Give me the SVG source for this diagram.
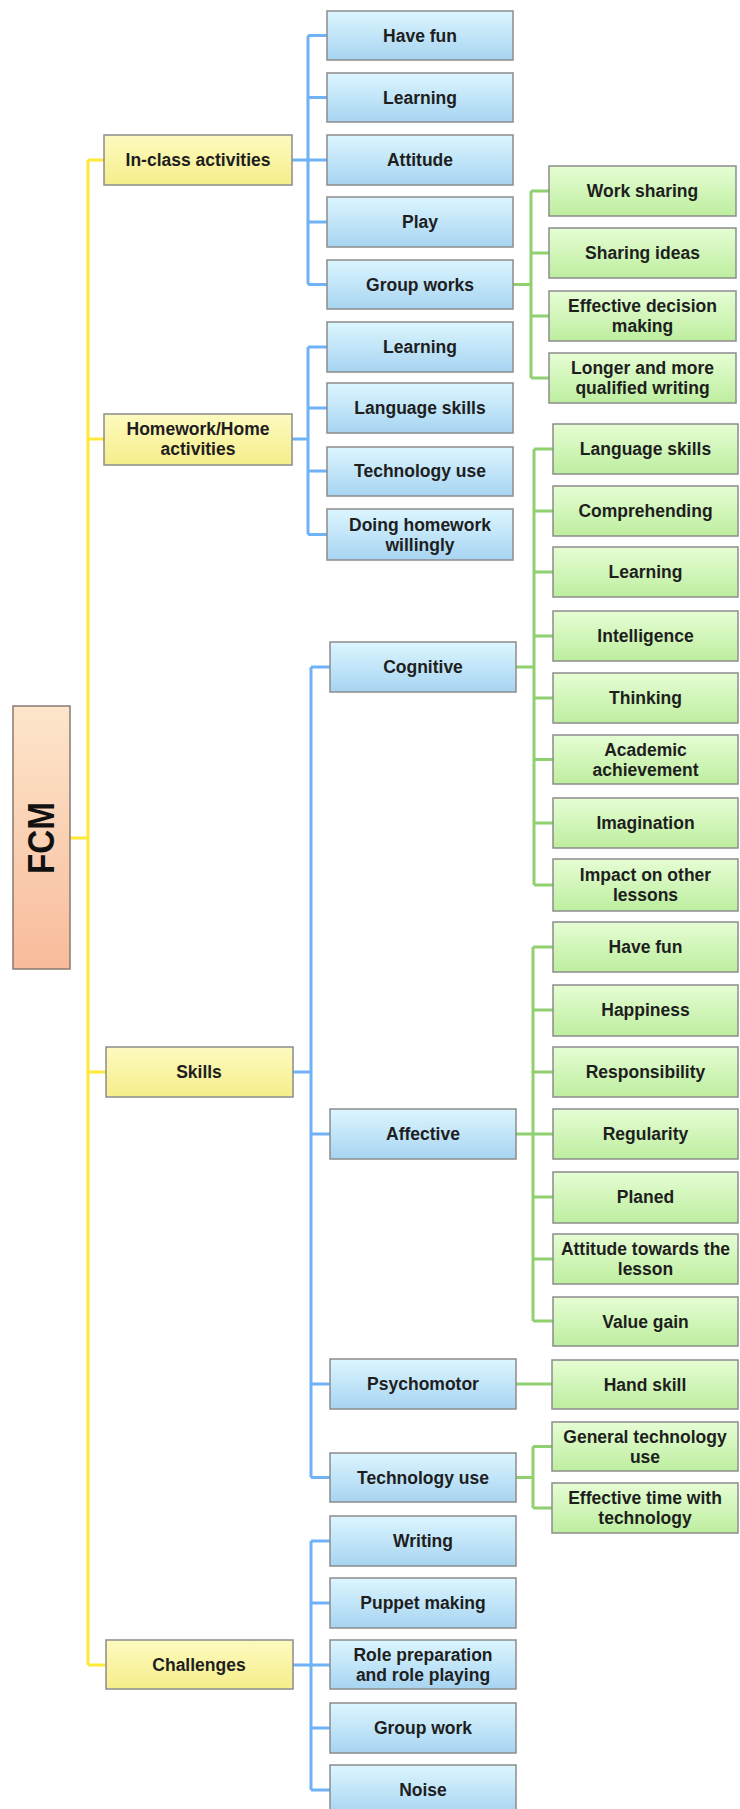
<svg xmlns="http://www.w3.org/2000/svg" width="740" height="1809" viewBox="0 0 740 1809">
<defs>
<linearGradient id="gBlue" x1="0" y1="0" x2="0" y2="1"><stop offset="0" stop-color="#dcf6ff"/><stop offset="1" stop-color="#a7d4f1"/></linearGradient>
<linearGradient id="gGreen" x1="0" y1="0" x2="0" y2="1"><stop offset="0" stop-color="#e6fdd4"/><stop offset="1" stop-color="#bdee9f"/></linearGradient>
<linearGradient id="gYellow" x1="0" y1="0" x2="0" y2="1"><stop offset="0" stop-color="#fdfac0"/><stop offset="1" stop-color="#f6ee8a"/></linearGradient>
<linearGradient id="gRoot" x1="0" y1="0" x2="0" y2="1"><stop offset="0" stop-color="#fde6cc"/><stop offset="1" stop-color="#f8bb9b"/></linearGradient>
</defs>
<style>
rect{stroke:#8c8c8c;stroke-width:1.5}
rect.bg{fill:#ffffff;stroke:none}
.b{fill:url(#gBlue)}
.g{fill:url(#gGreen)}
.y{fill:url(#gYellow)}
.r{fill:url(#gRoot);stroke:#8a7a70}
text{font-family:"Liberation Sans",Arial,sans-serif;font-weight:bold;font-size:17.5px;fill:#1e1e1e;text-anchor:middle}
.fcm{font-size:36px;fill:#111}
path{fill:none;stroke-width:3}
.cy{stroke:#ffe838}
.cb{stroke:#6fb2f6}
.cg{stroke:#8fd071}
</style>
<rect class="bg" width="740" height="1809"/>
<g id="connectors">
<path class="cy" d="M70,838H88M88,160V1665M88,160H104M88,439H104M88,1072H106M88,1665H106"/>
<path class="cb" d="M292,160H308M308,35.5V284.5M308,35.5H327M308,97.5H327M308,160H327M308,222H327M308,284.5H327"/>
<path class="cb" d="M292,439H308M308,347V534.5M308,347H327M308,408H327M308,471H327M308,534.5H327"/>
<path class="cb" d="M293,1072H311M311,667V1477.5M311,667H330M311,1134H330M311,1384H330M311,1477.5H330"/>
<path class="cb" d="M293,1665H311M311,1541V1790M311,1541H330M311,1603H330M311,1665H330M311,1728H330M311,1790H330"/>
<path class="cg" d="M513,284.5H531M531,191V378M531,191H549M531,253H549M531,316H549M531,378H549"/>
<path class="cg" d="M516,667H534M534,449V885M534,449H553M534,511H553M534,572H553M534,636H553M534,698H553M534,759.5H553M534,823H553M534,885H553"/>
<path class="cg" d="M516,1134H533M533,947V1321M533,947H553M533,1010H553M533,1072H553M533,1134H553M533,1197H553M533,1259H553M533,1321H553"/>
<path class="cg" d="M516,1384H552"/>
<path class="cg" d="M516,1477.5H533M533,1446.5V1508M533,1446.5H552M533,1508H552"/>
</g>
<g id="n-fcm"><rect class="r" x="13" y="706" width="57" height="263"/><text class="fcm" transform="translate(54,838) rotate(-90)" textLength="72" lengthAdjust="spacingAndGlyphs">FCM</text></g>
<g id="n-inclass"><rect class="y" x="104" y="135" width="188" height="50"/><text x="198" y="166">In-class activities</text></g>
<g id="n-homework"><rect class="y" x="104" y="414" width="188" height="51"/><text x="198" y="435">Homework/Home</text><text x="198" y="455">activities</text></g>
<g id="n-skills"><rect class="y" x="106" y="1047" width="187" height="50"/><text x="199" y="1078">Skills</text></g>
<g id="n-challenges"><rect class="y" x="106" y="1640" width="187" height="49"/><text x="199" y="1671">Challenges</text></g>
<g id="n-ic-havefun"><rect class="b" x="327" y="11" width="186" height="49"/><text x="420" y="41.5">Have fun</text></g>
<g id="n-ic-learning"><rect class="b" x="327" y="73" width="186" height="49"/><text x="420" y="103.5">Learning</text></g>
<g id="n-ic-attitude"><rect class="b" x="327" y="135" width="186" height="50"/><text x="420" y="166">Attitude</text></g>
<g id="n-ic-play"><rect class="b" x="327" y="197" width="186" height="50"/><text x="420" y="228">Play</text></g>
<g id="n-ic-groupworks"><rect class="b" x="327" y="260" width="186" height="49"/><text x="420" y="290.5">Group works</text></g>
<g id="n-hw-learning"><rect class="b" x="327" y="322" width="186" height="50"/><text x="420" y="353">Learning</text></g>
<g id="n-hw-language"><rect class="b" x="327" y="383" width="186" height="50"/><text x="420" y="414">Language skills</text></g>
<g id="n-hw-tech"><rect class="b" x="327" y="447" width="186" height="49"/><text x="420" y="477">Technology use</text></g>
<g id="n-hw-doing"><rect class="b" x="327" y="509" width="186" height="51"/><text x="420" y="530.5">Doing homework</text><text x="420" y="550.5">willingly</text></g>
<g id="n-gw-worksharing"><rect class="g" x="549" y="166" width="187" height="50"/><text x="642.5" y="197">Work sharing</text></g>
<g id="n-gw-sharingideas"><rect class="g" x="549" y="228" width="187" height="50"/><text x="642.5" y="259">Sharing ideas</text></g>
<g id="n-gw-decision"><rect class="g" x="549" y="291" width="187" height="50"/><text x="642.5" y="312">Effective decision</text><text x="642.5" y="332">making</text></g>
<g id="n-gw-longer"><rect class="g" x="549" y="353" width="187" height="50"/><text x="642.5" y="374">Longer and more</text><text x="642.5" y="394">qualified writing</text></g>
<g id="n-cognitive"><rect class="b" x="330" y="642" width="186" height="50"/><text x="423" y="673">Cognitive</text></g>
<g id="n-affective"><rect class="b" x="330" y="1109" width="186" height="50"/><text x="423" y="1140">Affective</text></g>
<g id="n-psychomotor"><rect class="b" x="330" y="1359" width="186" height="50"/><text x="423" y="1390">Psychomotor</text></g>
<g id="n-sk-tech"><rect class="b" x="330" y="1453" width="186" height="49"/><text x="423" y="1483.5">Technology use</text></g>
<g id="n-cg-language"><rect class="g" x="553" y="424" width="185" height="50"/><text x="645.5" y="455">Language skills</text></g>
<g id="n-cg-comprehending"><rect class="g" x="553" y="486" width="185" height="50"/><text x="645.5" y="517">Comprehending</text></g>
<g id="n-cg-learning"><rect class="g" x="553" y="547" width="185" height="50"/><text x="645.5" y="578">Learning</text></g>
<g id="n-cg-intelligence"><rect class="g" x="553" y="611" width="185" height="50"/><text x="645.5" y="642">Intelligence</text></g>
<g id="n-cg-thinking"><rect class="g" x="553" y="673" width="185" height="50"/><text x="645.5" y="704">Thinking</text></g>
<g id="n-cg-academic"><rect class="g" x="553" y="735" width="185" height="49"/><text x="645.5" y="755.5">Academic</text><text x="645.5" y="775.5">achievement</text></g>
<g id="n-cg-imagination"><rect class="g" x="553" y="798" width="185" height="50"/><text x="645.5" y="829">Imagination</text></g>
<g id="n-cg-impact"><rect class="g" x="553" y="859" width="185" height="52"/><text x="645.5" y="881">Impact on other</text><text x="645.5" y="901">lessons</text></g>
<g id="n-af-havefun"><rect class="g" x="553" y="922" width="185" height="50"/><text x="645.5" y="953">Have fun</text></g>
<g id="n-af-happiness"><rect class="g" x="553" y="985" width="185" height="51"/><text x="645.5" y="1016">Happiness</text></g>
<g id="n-af-responsibility"><rect class="g" x="553" y="1047" width="185" height="50"/><text x="645.5" y="1078">Responsibility</text></g>
<g id="n-af-regularity"><rect class="g" x="553" y="1109" width="185" height="50"/><text x="645.5" y="1140">Regularity</text></g>
<g id="n-af-planed"><rect class="g" x="553" y="1172" width="185" height="51"/><text x="645.5" y="1203">Planed</text></g>
<g id="n-af-attitude"><rect class="g" x="553" y="1234" width="185" height="50"/><text x="645.5" y="1255">Attitude towards the</text><text x="645.5" y="1275">lesson</text></g>
<g id="n-af-value"><rect class="g" x="553" y="1297" width="185" height="49"/><text x="645.5" y="1327.5">Value gain</text></g>
<g id="n-ps-hand"><rect class="g" x="552" y="1360" width="186" height="49"/><text x="645" y="1390.5">Hand skill</text></g>
<g id="n-te-general"><rect class="g" x="552" y="1422" width="186" height="49"/><text x="645" y="1442.5">General technology</text><text x="645" y="1462.5">use</text></g>
<g id="n-te-effective"><rect class="g" x="552" y="1483" width="186" height="50"/><text x="645" y="1504">Effective time with</text><text x="645" y="1524">technology</text></g>
<g id="n-ch-writing"><rect class="b" x="330" y="1516" width="186" height="50"/><text x="423" y="1547">Writing</text></g>
<g id="n-ch-puppet"><rect class="b" x="330" y="1578" width="186" height="50"/><text x="423" y="1609">Puppet making</text></g>
<g id="n-ch-role"><rect class="b" x="330" y="1640" width="186" height="49"/><text x="423" y="1660.5">Role preparation</text><text x="423" y="1680.5">and role playing</text></g>
<g id="n-ch-groupwork"><rect class="b" x="330" y="1703" width="186" height="50"/><text x="423" y="1734">Group work</text></g>
<g id="n-ch-noise"><rect class="b" x="330" y="1765" width="186" height="50"/><text x="423" y="1796">Noise</text></g>
</svg>
